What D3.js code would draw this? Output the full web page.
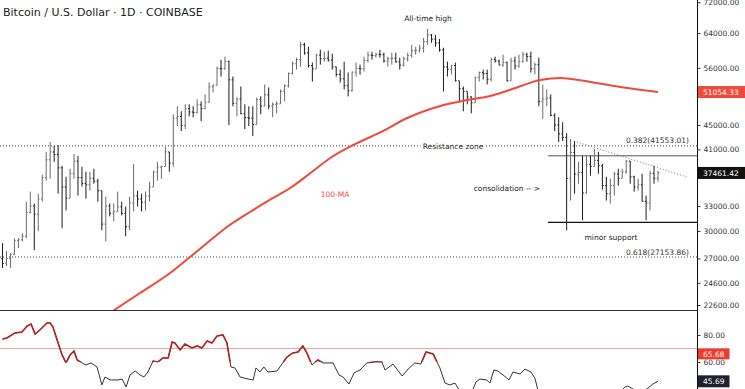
<!DOCTYPE html>
<html>
<head>
<meta charset="utf-8">
<script src="https://cdn.jsdelivr.net/npm/d3@7"></script>
<style>
  html, body { margin: 0; padding: 0; background: #fff; }
  svg { display: block; font-family: "DejaVu Sans", sans-serif; }
</style>
</head>
<body>
<svg id="chart" width="745" height="389"></svg>
<script>
// daily bars (USD)
var highs = [28630,27780,27570,29180,29180,29740,33570,34880,33320,34610,
    37200,40600,42170,41530,41690,38500,36920,38060,40290,39980,
    38350,37630,37630,38060,36640,33960,34220,33320,33320,34880,
    33570,32950,34220,38790,35010,34610,34880,36230,37770,39090,
    38500,41370,39980,46890,48340,47430,48710,48710,48340,49640,
    49260,50600,52950,52550,56270,57780,58450,57560,54170,50020,
    52150,48710,48340,48340,50020,50220,52550,51950,49080,49260,
    51560,52550,55010,57350,58230,61870,61630,60710,57130,59120,
    60020,59580,59800,59120,56270,55630,57350,55010,55220,57130,
    56700,58450,59580,59580,59350,60020,59350,58450,59350,59350,
    58230,58450,59350,61170,60710,61170,62780,64990,63760,63510,
    62540,60480,57350,56700,57130,52150,52150,50600,50220,54170,
    55220,55630,55630,58230,58450,57780,58890,57350,58230,58450,
    58890,59580,59350,59580,57130,58230,52550,51560,50600,47070,
    46350,45500,43630,42650,42330,39090,39980,39980,39980,41060,
    40600,38790,36920,36640,37630,38060,38060,39380,39090,37060,
    36640,37340,34350,37770,38500,37770];
var lows = [26040,26240,26040,27570,28090,28850,29180,32080,27880,29970,
    33570,36360,36640,39090,34610,30310,32450,34350,36640,34350,
    35550,33960,35010,35950,33570,30080,28850,31720,31130,32330,
    31840,29400,30080,32330,32950,32330,32450,33570,35680,36360,
    36640,39090,37630,38350,44810,43970,44300,46530,46350,47070,
    45670,47790,49080,50990,54170,54170,55630,44980,48340,46530,
    46890,44300,44810,43130,45150,46890,48340,47790,46350,47070,
    49080,49260,51950,54590,55630,56270,58890,56060,53150,56060,
    56700,57350,57350,55630,54170,52950,51560,50220,51160,54170,
    54590,55220,57130,57780,58230,58230,57130,56270,56700,57130,
    55630,56270,57350,58230,58890,59350,59350,61170,61630,60710,
    59580,51160,54170,54590,53150,49080,47430,48710,47070,49640,
    53150,53560,52550,53150,57130,56700,56270,53150,55630,55630,
    56060,57130,57350,55010,54590,48340,46010,48340,46530,43970,
    42170,42330,30080,33700,34610,35950,31250,34610,37060,38350,
    37340,35150,33700,33320,34350,35680,37060,37340,35950,34880,
    35010,33570,31250,32450,35950,36230];
var closes = [26500,27000,27400,28900,29000,29400,32200,33000,32000,33900,
    36800,39400,40600,40200,38200,35500,34000,37400,39200,36800,
    36000,35800,36700,36300,35000,30800,33000,32100,32300,32900,
    32100,30500,33400,34300,33900,33500,34300,35500,37600,38300,
    38400,40600,38900,46200,46500,44900,47900,47300,47200,48600,
    47900,49100,52100,52400,55900,55800,57400,53500,48900,49700,
    47000,46300,46200,45100,49600,48400,50500,48400,48700,48800,
    51200,52300,54800,56900,57800,61200,59300,56500,55800,58800,
    58000,58100,57700,56200,54600,53700,52300,51300,55100,55900,
    55800,57600,58800,58700,59000,58900,57500,58000,58100,57300,
    56600,58000,58700,59800,59900,60400,61900,63500,62500,61600,
    60000,56200,55700,56500,53300,51700,51200,50100,49000,54000,
    55000,54800,53600,57800,57500,56600,57200,53300,57500,56400,
    57400,58900,58500,55800,56700,49200,49700,49900,46700,45000,
    43500,42900,36700,40500,37300,37500,34700,38700,38400,39300,
    38500,35700,34600,35700,37300,36700,37600,39200,36900,35500,
    35800,33600,33400,37400,36700,37461.42];
var firstOpen = 27000;

// 100-MA as it appears on the chart (bar index, value)
var maIdx = [26, 34.6, 42.2, 47.2, 51.5, 56.5, 62.3, 68.1, 72.4, 77.5, 82.5, 88.3,
    95.3, 101.9, 110.2, 117, 122.8, 127.8, 135.4, 140.4, 148, 155.5, 165];
var maVal = [21700, 23660, 25540, 27150, 28650, 30460, 32260, 34040, 35360, 37450, 39670, 41690,
    43820, 46230, 48400, 49520, 50300, 51500, 53460, 53870, 53050, 52050, 51054.33];

// RSI pane (bar index, value)
var rsiIdx = [0, 1.1, 3.1, 4.9, 6.2, 7.2, 8.2, 9.4, 11.2, 12, 12.7, 14, 15, 16, 17, 18, 18.8, 20, 21, 22.3,
    23.8, 25, 25.8, 27.1, 29.1, 30.1, 31.1, 32.1, 33.4, 34.6, 35.6, 36.6, 37.9, 39.1, 40.4, 41.7, 42.7, 43.4,
    44.7, 45.9, 47.7, 49, 50.2, 51.5, 52.7, 54, 55.5, 56.5, 57.5, 58.5, 59.8, 61.8, 63.1, 63.8, 64.8, 65.8,
    66.8, 69.1, 71.6, 73.1, 74.4, 75.6, 76.6, 77.9, 79.4, 80.7, 83.2, 84.7, 85.7, 87.2, 88.5, 90, 91.7, 93.8,
    95.5, 96.3, 98.3, 100.6, 102.1, 103.8, 105.3, 106.6, 108.4, 110.1, 111.4, 112.6, 113.9, 115.2, 116.7,
    118, 119.2, 120.2, 121.9, 122.7, 123.7, 124.7, 126, 127.5, 128.5, 130.3, 131.5, 133, 134, 134.8, 136,
    138, 140, 142, 144, 146, 148, 150, 152, 154, 155.5, 156.7, 157.4, 158.7, 160.5, 162.5, 163.7, 165];
var rsiVal = [77, 77.8, 81.5, 82.2, 86.7, 88.1, 80.7, 83.7, 88.9, 88.9, 85.9, 74.1, 65.2, 59.3, 65.2, 68.1,
    61.5, 59.3, 57.8, 59.3, 56.3, 43, 48.9, 46.7, 46.7, 47.4, 41.5, 50.4, 53.3, 50.4, 48.9, 52.6, 60.7, 60,
    63, 63, 74.8, 74.1, 68.9, 73.3, 70.4, 71.9, 70.4, 75.6, 74.1, 79.3, 80, 74.1, 56.3, 55.6, 48.9, 47.4,
    46.7, 55.6, 52.6, 56.3, 52.6, 53.3, 63.7, 66.7, 67.4, 71.9, 66.7, 57.8, 61.5, 59.3, 59.3, 50.4, 48.9,
    43.7, 51.9, 54.1, 59.3, 60, 60, 54.1, 58.5, 49.6, 54.8, 59.3, 58.5, 67.4, 65.9, 55.6, 44.4, 43, 44.4,
    38, 36, 37, 45.2, 47.4, 46.7, 44.4, 54.1, 53.3, 50.4, 46.7, 52.6, 51.1, 54.8, 52.6, 48.1, 39, 33, 32,
    28, 24, 31, 28, 34, 37, 31, 35, 38, 41.5, 42.2, 40, 37, 40.7, 43.7, 45.69];

var priceTicks = [72000, 64000, 56000, 45000, 41000, 33000, 30000, 27000, 24600, 22600];
var rsiTicks = [80, 60];
var fibRatios = ['0.382', '0.618'];
var fibValues = [41553.01, 27153.86];
var rangeLevels = [40000, 31000];   // consolidation top / minor support
var rangeStart = 137.3;
var trendIdx = [144.6, 172.3];
var trendVal = [42180, 36880];
var rsiBand = 70;
var rsiMarker = 65.68;

var W = 745, H = 389, axisX = 697, paneBottom = 310;
var FS = 7.5;

var svg = d3.select('#chart');

var x = d3.scaleLinear().domain([0, closes.length - 1]).range([2.5, 658]);
var y = d3.scaleLog().domain([22600, 72000]).range([305, 2.2]);
var yr = d3.scaleLinear().domain([60, 80]).range([362, 335]);

var defs = svg.append('defs');
defs.append('clipPath').attr('id', 'mainClip')
    .append('rect').attr('x', 0).attr('y', 0).attr('width', axisX).attr('height', paneBottom);
defs.append('clipPath').attr('id', 'rsiClip')
    .append('rect').attr('x', 0).attr('y', paneBottom + 1).attr('width', axisX).attr('height', H - paneBottom - 1);
defs.append('clipPath').attr('id', 'rsiHighClip')
    .append('rect').attr('x', 0).attr('y', paneBottom + 1).attr('width', axisX).attr('height', yr(60) - paneBottom - 1);

var main = svg.append('g').attr('clip-path', 'url(#mainClip)');

// fib levels, dotted full width
main.selectAll('line.fib')
    .data(fibValues)
    .enter().append('line')
    .attr('class', 'fib')
    .attr('x1', 0).attr('x2', axisX)
    .attr('y1', function(d) { return y(d); })
    .attr('y2', function(d) { return y(d); })
    .attr('stroke', '#444')
    .attr('stroke-width', 1)
    .attr('stroke-dasharray', '1,2')
;

main.selectAll('text.fib')
    .data(fibValues)
    .enter().append('text')
    .attr('class', 'fib')
    .attr('x', 689)
    .attr('y', function(d) { return y(d) - 2.5; })
    .attr('text-anchor', 'end')
    .attr('font-size', FS + 'px')
    .attr('fill', '#333')
    .text(function(d, i) { return fibRatios[i] + '(' + d.toFixed(2) + ')'; })
;

// consolidation range
main.selectAll('line.range')
    .data(rangeLevels)
    .enter().append('line')
    .attr('class', 'range')
    .attr('x1', x(rangeStart)).attr('x2', axisX)
    .attr('y1', function(d) { return y(d); })
    .attr('y2', function(d) { return y(d); })
    .attr('stroke', function(d, i) { return i === 0 ? '#555' : '#111'; })
    .attr('stroke-width', function(d, i) { return i === 0 ? 1 : 1.4; })
;

// falling trendline
main.append('line')
    .attr('x1', x(trendIdx[0])).attr('y1', y(trendVal[0]))
    .attr('x2', x(trendIdx[1])).attr('y2', y(trendVal[1]))
    .attr('stroke', '#777')
    .attr('stroke-width', 1)
    .attr('stroke-dasharray', '1,2')
;

// OHLC bars
var bars = closes.map(function(c, i) {
    var o = i === 0 ? firstOpen : closes[i - 1];
    return { i: i, o: o, c: c, h: Math.max(highs[i], o, c), l: Math.min(lows[i], o, c) };
});

var bar = main.selectAll('g.bar')
    .data(bars)
    .enter().append('g')
    .attr('class', 'bar')
    .attr('stroke', function(d) { return d.c >= d.o ? '#6a6a6a' : '#1c1c1c'; })
    .attr('stroke-width', 1)
;
bar.append('line')
    .attr('x1', function(d) { return x(d.i); })
    .attr('x2', function(d) { return x(d.i); })
    .attr('y1', function(d) { return y(d.h); })
    .attr('y2', function(d) { return y(d.l); })
;
bar.append('line')
    .attr('x1', function(d) { return x(d.i) - 1.3; })
    .attr('x2', function(d) { return x(d.i); })
    .attr('y1', function(d) { return y(d.o); })
    .attr('y2', function(d) { return y(d.o); })
;
bar.append('line')
    .attr('x1', function(d) { return x(d.i); })
    .attr('x2', function(d) { return x(d.i) + 1.3; })
    .attr('y1', function(d) { return y(d.c); })
    .attr('y2', function(d) { return y(d.c); })
;

// 100-MA
var maLine = d3.line()
    .x(function(d) { return x(d[0]); })
    .y(function(d) { return y(d[1]); })
    .curve(d3.curveMonotoneX);
main.append('path')
    .datum(d3.zip(maIdx, maVal))
    .attr('d', maLine)
    .attr('fill', 'none')
    .attr('stroke', '#ef4a3b')
    .attr('stroke-width', 2)
;

// annotations
function note(tx, ty, str, anchor, color) {
    return main.append('text')
        .attr('x', tx).attr('y', ty)
        .attr('text-anchor', anchor || 'start')
        .attr('font-size', FS + 'px')
        .attr('fill', color || '#222')
        .text(str);
}

note(428, 21, 'All-time high', 'middle');
var rz = note(453, y(fibValues[0]) + 2.8, 'Resistance zone', 'middle');
var rb = rz.node().getBBox();
main.insert('rect', function() { return rz.node(); })
    .attr('x', rb.x - 2).attr('y', rb.y).attr('width', rb.width + 4).attr('height', rb.height)
    .attr('fill', '#fff');
note(540, 191, 'consolidation -- >', 'end');
note(611, 240, 'minor support', 'middle');
note(335, 197, '100-MA', 'middle', '#ef4a3b');

// title
svg.append('text')
    .attr('x', 3).attr('y', 15.5)
    .attr('font-size', '11px')
    .attr('fill', '#222')
    .text('Bitcoin / U.S. Dollar \u00b7 1D \u00b7 COINBASE')
;

// RSI pane
var rsi = svg.append('g').attr('clip-path', 'url(#rsiClip)');
rsi.append('line')
    .attr('x1', 0).attr('x2', axisX)
    .attr('y1', yr(rsiBand)).attr('y2', yr(rsiBand))
    .attr('stroke', '#f6a69e')
    .attr('stroke-width', 1)
;
var rsiLine = d3.line()
    .x(function(d) { return x(d[0]); })
    .y(function(d) { return yr(d[1]); });
var rsiData = d3.zip(rsiIdx, rsiVal);
rsi.append('path')
    .datum(rsiData)
    .attr('d', rsiLine)
    .attr('fill', 'none')
    .attr('stroke', '#333')
    .attr('stroke-width', 1)
;
svg.append('g').attr('clip-path', 'url(#rsiHighClip)')
    .append('path')
    .datum(rsiData)
    .attr('d', rsiLine)
    .attr('fill', 'none')
    .attr('stroke', '#b3231d')
    .attr('stroke-width', 1.6)
;

// pane separator and price scale border
svg.append('line')
    .attr('x1', 0).attr('x2', axisX)
    .attr('y1', paneBottom + 0.5).attr('y2', paneBottom + 0.5)
    .attr('stroke', '#333')
;
svg.append('line')
    .attr('x1', axisX + 0.5).attr('x2', axisX + 0.5)
    .attr('y1', 0).attr('y2', H)
    .attr('stroke', '#111')
;

function styleAxis(g) {
    g.select('.domain').remove();
    g.selectAll('.tick line').attr('stroke', '#333');
    g.selectAll('.tick text')
        .attr('font-family', '"DejaVu Sans", sans-serif')
        .attr('font-size', FS + 'px')
        .attr('fill', '#333');
}

svg.append('g')
    .attr('transform', 'translate(' + (axisX + 0.5) + ',0)')
    .call(d3.axisRight(y).tickValues(priceTicks).tickFormat(d3.format('.2f')).tickSize(3).tickPadding(3))
    .call(styleAxis)
;
svg.append('g')
    .attr('transform', 'translate(' + (axisX + 0.5) + ',0)')
    .call(d3.axisRight(yr).tickValues(rsiTicks).tickFormat(d3.format('.2f')).tickSize(3).tickPadding(3))
    .call(styleAxis)
;

// value tags on the scale
function tag(cy, str, fill, full, h) {
    h = h || 12;
    var g = svg.append('g');
    var r = g.append('rect').attr('fill', fill);
    var t = g.append('text')
        .attr('x', axisX + 6).attr('y', cy + 2.8)
        .attr('font-size', FS + 'px')
        .attr('fill', '#fff')
        .text(str);
    var w = full ? W - axisX : t.node().getComputedTextLength() + 10;
    r.attr('x', axisX + 1).attr('y', cy - h / 2).attr('width', w).attr('height', h);
}

tag(y(maVal[maVal.length - 1]), d3.format('.2f')(maVal[maVal.length - 1]), '#ef4a3b', true);
tag(y(closes[closes.length - 1]), d3.format('.2f')(closes[closes.length - 1]), '#111', true);
tag(yr(rsiMarker) - 0.5, d3.format('.2f')(rsiMarker), '#ef3b2c', false, 11);
tag(yr(rsiVal[rsiVal.length - 1]), d3.format('.2f')(rsiVal[rsiVal.length - 1]), '#1e222d', false);
</script>
</body>
</html>
